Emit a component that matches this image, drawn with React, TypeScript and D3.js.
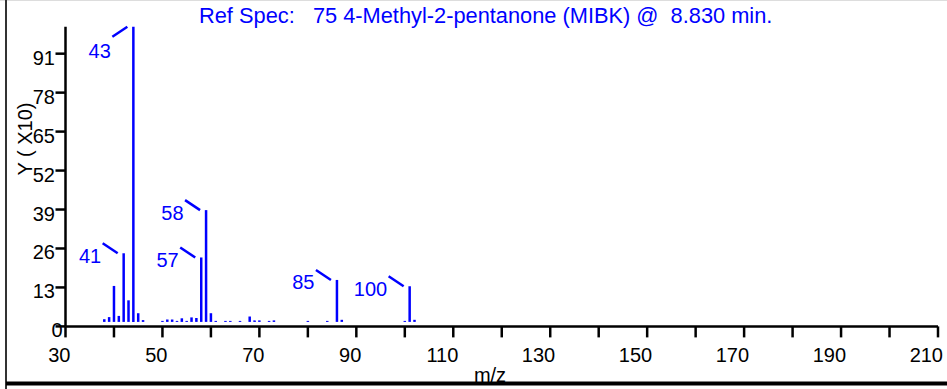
import React, { useEffect, useRef } from "react";
import * as d3 from "d3";

const title = "Ref Spec:   75 4-Methyl-2-pentanone (MIBK) @  8.830 min.";
const xLabel = "m/z";
const yLabel = "Y ( X10)";

// centroid peaks: m/z and abundance (% of base peak 43)
const masses = [37, 38, 39, 40, 41, 42, 43, 44, 45, 49, 50, 51, 52, 53, 54, 55, 56, 57, 58, 59,
  60, 62, 63, 65, 67, 68, 69, 71, 72, 79, 83, 85, 86, 99, 100, 101];
const abundances = [2.4, 3.1, 13.5, 3.5, 24.4, 8.7, 100, 4.4, 2.1, 1.5, 2.3, 2.3, 1.5, 2.7, 1.5, 3.0, 2.8, 23.0, 38.8, 4.4,
  1.2, 1.2, 1.2, 1.2, 3.3, 2.0, 2.0, 1.5, 2.0, 1.2, 1.2, 15.5, 2.2, 1.2, 13.4, 2.2];

const labelledPeaks = [41, 43, 57, 58, 85, 100];

const yTicks = [0, 13, 26, 39, 52, 65, 78, 91];
// the instrument axis starts at 29, ticks every 10, labels every 20
const xTicks = d3.range(29, 210, 10);
const xTickLabels = ["30", "50", "70", "90", "110", "130", "150", "170", "190", "210"];

const width = 947;
const height = 389;
const font = "'Liberation Sans', Arial, sans-serif";

export default function App() {
  const svgRef = useRef(null);

  useEffect(() => {
    const svg = d3.select(svgRef.current);
    svg.selectAll("*").remove();

    const x = d3.scaleLinear([29, 209], [65.5, 938]);
    const y = d3.scaleLinear([0, 100], [326.4, 26.7]);
    const base = y(0) - 4.5; // bars stop a little above the axis line

    // frame
    svg.append("line")
      .attr("x1", 0).attr("x2", width).attr("y1", 0.5).attr("y2", 0.5)
      .attr("stroke", "#ddd");
    svg.append("line")
      .attr("x1", 6).attr("x2", 6).attr("y1", 0).attr("y2", height)
      .attr("stroke", "#333").attr("stroke-width", 2);

    // title
    svg.append("text")
      .attr("x", 199).attr("y", 22.5)
      .attr("fill", "blue")
      .attr("font-family", font).attr("font-size", 21.8)
      .style("white-space", "pre")
      .text(title);

    // y axis
    const gy = svg.append("g").attr("font-family", font).attr("font-size", 20);
    gy.append("line")
      .attr("x1", x(29)).attr("x2", x(29)).attr("y1", y(100)).attr("y2", y(0))
      .attr("stroke", "black").attr("stroke-width", 2.5);
    gy.selectAll(".tick")
      .data(yTicks)
      .join("line")
      .attr("x1", x(29) - 10).attr("x2", x(29))
      .attr("y1", (d) => y(d)).attr("y2", (d) => y(d))
      .attr("stroke", "black").attr("stroke-width", 2.5);
    gy.selectAll("text")
      .data(yTicks)
      .join("text")
      .attr("text-anchor", "end")
      .attr("dominant-baseline", "central")
      .attr("x", (d) => (d === 0 ? x(29) - 3 : x(29) - 10.5))
      .attr("y", (d) => y(d) + 4)
      .text((d) => d);

    svg.append("text")
      .attr("transform", `translate(25,139) rotate(-90)`)
      .attr("text-anchor", "middle")
      .attr("dominant-baseline", "central")
      .attr("font-family", font).attr("font-size", 20)
      .style("white-space", "pre")
      .text(yLabel);

    // x axis
    const gx = svg.append("g").attr("font-family", font).attr("font-size", 20);
    gx.append("line")
      .attr("x1", x(29)).attr("x2", x(209)).attr("y1", y(0)).attr("y2", y(0))
      .attr("stroke", "black").attr("stroke-width", 2.5);
    gx.selectAll(".tick")
      .data(xTicks)
      .join("line")
      .attr("x1", (d) => x(d)).attr("x2", (d) => x(d))
      .attr("y1", y(0)).attr("y2", y(0) + 11)
      .attr("stroke", "black").attr("stroke-width", 2.5);
    gx.selectAll("text")
      .data(xTicks.filter((d, i) => i % 2 === 0))
      .join("text")
      .attr("text-anchor", "end")
      .attr("x", (d) => x(d) + 5)
      .attr("y", 355)
      .attr("dominant-baseline", "central")
      .text((d, i) => xTickLabels[i]);

    svg.append("text")
      .attr("x", 490).attr("y", 382)
      .attr("text-anchor", "middle")
      .attr("font-family", font).attr("font-size", 20)
      .text(xLabel);

    // spectrum bars
    const peaks = masses.map((m, i) => ({ m, v: abundances[i] }));
    svg.append("g")
      .selectAll("line")
      .data(peaks)
      .join("line")
      .attr("x1", (d) => x(d.m)).attr("x2", (d) => x(d.m))
      .attr("y1", base)
      .attr("y2", (d) => Math.min(y(d.v), base - 1))
      .attr("stroke", "blue").attr("stroke-width", 2.5);

    // peak labels with leader ticks
    const lab = svg.append("g").attr("font-family", font).attr("font-size", 20);
    peaks.filter((d) => labelledPeaks.includes(d.m)).forEach((d) => {
      const bx = x(d.m);
      const top = y(d.v);
      const nearTop = d.v > 90;
      lab.append("line")
        .attr("x1", bx - 21).attr("y1", nearTop ? top + 10 : top - 10)
        .attr("x2", bx - 6).attr("y2", top)
        .attr("stroke", "blue").attr("stroke-width", 2.5);
      lab.append("text")
        .attr("x", bx - 22.5)
        .attr("y", nearTop ? top + 24 : top + 2.5)
        .attr("text-anchor", "end")
        .attr("dominant-baseline", "central")
        .attr("fill", "blue")
        .text(d.m);
    });

    // heavy bottom rule, drawn over the axis title
    svg.append("line")
      .attr("x1", 6).attr("x2", width).attr("y1", 383.5).attr("y2", 383.5)
      .attr("stroke", "black").attr("stroke-width", 4);
  }, []);

  return (
    <svg
      ref={svgRef}
      width={width}
      height={height}
      style={{ position: "absolute", left: 0, top: 0, background: "white" }}
    />
  );
}
